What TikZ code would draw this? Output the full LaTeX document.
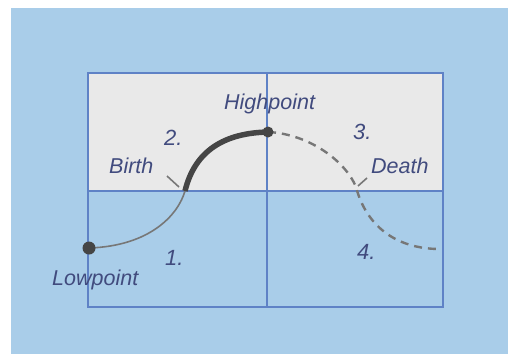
\documentclass[tikz,border=0pt]{standalone}
\usepackage{fontspec}
\setmainfont{Liberation Sans}
\begin{document}
\begin{tikzpicture}[x=1pt,y=-1pt,
  grid/.style={draw=gridblue,line width=1.7pt},
  lbl/.style={anchor=base west,inner sep=0pt,text=labelblue,font=\fontsize{21.5}{21.5}\selectfont\itshape},
  num/.style={anchor=base west,inner sep=0pt,text=labelblue,font=\fontsize{22}{22}\selectfont\itshape},
  dot/.style={circle,fill=curvedark,inner sep=0pt,minimum size=13pt},
  tick/.style={draw=curvegray,line width=1.6pt}]
\definecolor{bgblue}{HTML}{A9CDE9}
\definecolor{paper}{HTML}{E9E9E9}
\definecolor{gridblue}{HTML}{5F82C6}
\definecolor{labelblue}{HTML}{414B7E}
\definecolor{curvedark}{HTML}{454545}
\definecolor{curvegray}{HTML}{777777}
\useasboundingbox (0,0) rectangle (508,354);
\fill[white] (0,0) rectangle (508,354);
\fill[bgblue] (11,8) rectangle (508,354);
% upper band of the grid
\fill[paper] (88,73) rectangle (443,191);
% grid lines
\draw[grid] (88,73) rectangle (443,307);
\draw[grid] (88,191) -- (443,191);
\draw[grid] (267,73) -- (267,307);
% curve points
\coordinate (low) at (89,248);
\coordinate (birth) at (185,191);
\coordinate (high) at (268,132);
\coordinate (death) at (356,187);
\coordinate (tail) at (440,249);
% curve
\draw[curvegray,line width=1.6pt] (low) .. controls (150,246) and (178,215) .. (birth);
\draw[curvedark,line width=5.5pt] (birth) .. controls (195,150) and (225,133) .. (high);
\draw[curvegray,line width=2.4pt,dash pattern=on 8pt off 6pt]
  (high) .. controls (310,134) and (346,162) .. (death)
  .. controls (366,225) and (395,249) .. (tail);
\node[dot] (lowdot) at (low) {};
\node[dot,minimum size=11pt] (highdot) at (high) {};
% pointer ticks
\coordinate (bt1) at (167,176);
\coordinate (bt2) at (179,187);
\draw[tick] (bt1) -- (bt2);
\coordinate (dt1) at (358,186);
\coordinate (dt2) at (367,178);
\draw[tick] (dt1) -- (dt2);
% labels
\node[lbl] (hl) at (224,109) {Highpoint};
\node[lbl] (bl) at (109,173) {Birth};
\node[lbl] (dl) at (371,173) {Death};
\node[lbl] (ll) at (52,285) {Lowpoint};
\node[num] (n1) at (165,265) {1.};
\node[num] (n2) at (164,145) {2.};
\node[num] (n3) at (353,139) {3.};
\node[num] (n4) at (357,259) {4.};
\end{tikzpicture}
\end{document}
